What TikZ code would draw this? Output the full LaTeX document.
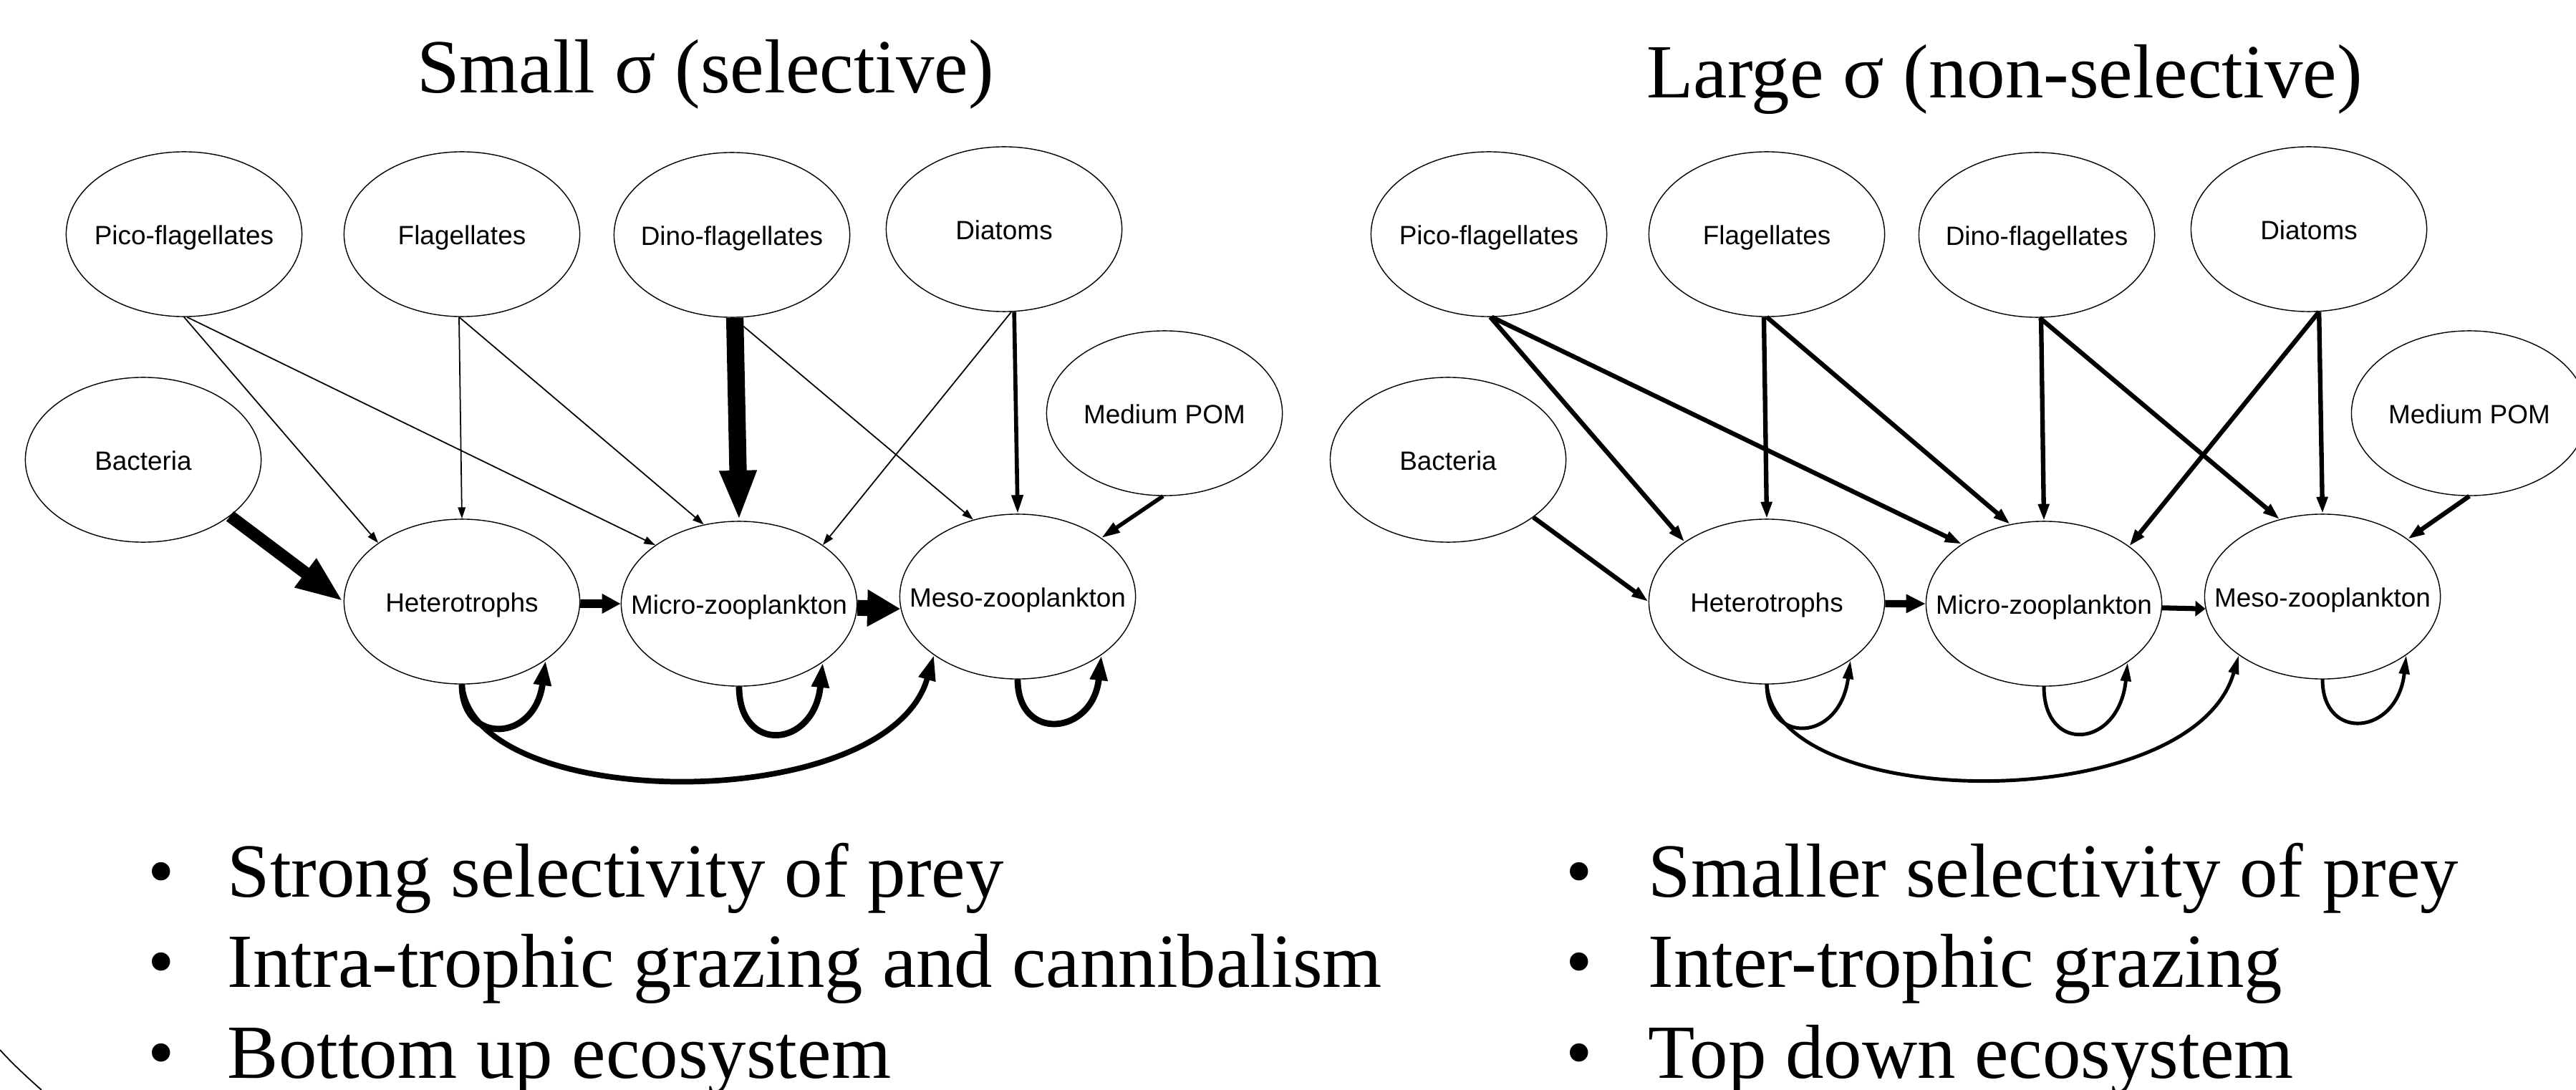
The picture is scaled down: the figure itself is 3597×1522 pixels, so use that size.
\documentclass[tikz,border=0pt]{standalone}
\usepackage{fontspec}
\setmainfont{Liberation Serif}
\newfontfamily\labelfont{Liberation Sans}
\usetikzlibrary{shapes.geometric,arrows.meta}
\newcommand\zw[1]{\makebox[0pt]{#1}}
\begin{document}
\begin{tikzpicture}[x=0.01cm,y=-0.01cm,
 pop/.style={ellipse,draw,line width=0.4pt,minimum width=3.29cm,minimum height=2.3cm,inner sep=0pt,font=\labelfont\fontsize{10.5}{12}\selectfont,text height=8.5pt,text depth=0pt},
 big/.style={inner sep=0pt,font=\fontsize{30.4}{36}\selectfont},
 thinL/.style={line width=0.5pt,-{Triangle[length=4.5pt,width=3pt]}},
 medL/.style={line width=1.6pt,-{Triangle[length=7.4pt,width=4.4pt]}},
 hugeL/.style={line width=6.9pt,-{Triangle[length=20pt,width=13.4pt]}},
 bactL/.style={line width=4.9pt,-{Triangle[length=19pt,width=13pt]}},
 hmL/.style={line width=3.4pt,-{Triangle[length=7.4pt,width=7.4pt]}},
 mmL/.style={line width=6.3pt,-{Triangle[length=13.2pt,width=13.8pt]}},
 loopL/.style={line width=2.5pt,-{Triangle[length=10pt,width=6.5pt]}},
 arcL/.style={line width=2.2pt,-{Triangle[length=10pt,width=6.5pt]}},
 medR/.style={line width=1.8pt,-{Triangle[length=6.7pt,width=4.2pt]}},
 hmR/.style={line width=2.9pt,-{Triangle[length=7.7pt,width=7pt]}},
 mmR/.style={line width=2pt,-{Triangle[length=4pt,width=6pt]}},
 loopR/.style={line width=1.4pt,-{Triangle[length=7.5pt,width=4pt]}},
]
\useasboundingbox (0,0) rectangle (3597,1522);
\clip (0,0) rectangle (3597,1522);

% titles
\node[big,anchor=base] (titleL) at (985,130) {Small σ (selective)};
\node[big,anchor=base] (titleR) at (2799,137) {Large σ (non-selective)};

% ---------------- left graph ----------------
\node[pop] (pico)   at (257,327)  {\zw{Pico-flagellates}};
\node[pop] (flag)   at (645,327)  {\zw{Flagellates}};
\node[pop] (dino)   at (1022,328) {\zw{Dino-flagellates}};
\node[pop] (diat)   at (1402,320) {\zw{Diatoms}};
\node[pop] (pom)    at (1626,577) {\zw{Medium POM}};
\node[pop] (bact)   at (200,642)  {\zw{Bacteria}};
\node[pop] (het)    at (645,840)  {\zw{Heterotrophs}};
\node[pop] (micro)  at (1032,843) {\zw{Micro-zooplankton}};
\node[pop] (meso)   at (1421,833) {\zw{Meso-zooplankton}};

\draw[thinL] (pico.-90) -- (het.145);
\draw[thinL] (pico.-88) -- (micro.145);
\draw[thinL] (flag.-92) -- (het.90);
\draw[thinL] (flag.-92) -- (micro.114);
\draw[hugeL] (dino.-88) -- (micro.90);
\draw[thinL] (dino.-89.5) -- (meso.120);
\draw[thinL] (diat.-85) -- (micro.35.5);
\draw[medL] (diat.-83) -- (meso.90);
\draw[medL] (pom.-91) -- (meso.35);
\draw[bactL] (bact.-33) -- (het.180);
\draw[hmL] (het.-1) -- (micro.180.5);
\draw[mmL] (micro.-2.4) -- (meso.186);
\draw[loopL] (het.-90) .. controls +(0,85) and +(-15,115) .. (het.-35);
\draw[loopL] (micro.-90) .. controls +(0,95) and +(-12,120) .. (micro.-35);
\draw[loopL] (meso.-90) .. controls +(0,88) and +(-12,112) .. (meso.-35);
\draw[arcL] (het.-90) .. controls +(15,180) and +(-65,226) .. (meso.-145);

% ---------------- right graph ----------------
\node[pop] (picoR)  at (2079,327) {\zw{Pico-flagellates}};
\node[pop] (flagR)  at (2467,327) {\zw{Flagellates}};
\node[pop] (dinoR)  at (2844,328) {\zw{Dino-flagellates}};
\node[pop] (diatR)  at (3224,320) {\zw{Diatoms}};
\node[pop] (pomR)   at (3448,577) {\zw{Medium POM}};
\node[pop] (bactR)  at (2022,642) {\zw{Bacteria}};
\node[pop] (hetR)   at (2467,840) {\zw{Heterotrophs}};
\node[pop] (microR) at (2854,843) {\zw{Micro-zooplankton}};
\node[pop] (mesoR)  at (3243,833) {\zw{Meso-zooplankton}};

\draw[medR] (picoR.-89) -- (hetR.144.6);
\draw[medR] (picoR.-88) -- (microR.144.6);
\draw[medR] (flagR.-92) -- (hetR.90);
\draw[medR] (flagR.-90.5) -- (microR.113.8);
\draw[medR] (dinoR.-87.6) -- (microR.90);
\draw[medR] (dinoR.-88.5) -- (mesoR.119.5);
\draw[medR] (diatR.-83) -- (microR.34.7);
\draw[medR] (diatR.-83) -- (mesoR.90);
\draw[medR] (pomR.-90.5) -- (mesoR.34.7);
\draw[medR] (bactR.-34.8) -- (hetR.180);
\draw[hmR] (hetR.-1) -- (microR.180.5);
\draw[mmR] (microR.-2.4) -- (mesoR.186);
\draw[loopR] (hetR.-90) .. controls +(0,85) and +(-15,115) .. (hetR.-35);
\draw[loopR] (microR.-90) .. controls +(0,95) and +(-12,120) .. (microR.-35);
\draw[loopR] (mesoR.-90) .. controls +(0,88) and +(-12,112) .. (mesoR.-35);
\draw[loopR] (hetR.-90) .. controls +(15,180) and +(-65,226) .. (mesoR.-145);

% ---------------- bullets ----------------
\node[big,anchor=base] (bl1) at (225,1252) {•};
\node[big,anchor=base] (bl2) at (225,1378) {•};
\node[big,anchor=base] (bl3) at (225,1505) {•};
\node[big,anchor=base west] (tl1) at (317,1252) {Strong selectivity of prey};
\node[big,anchor=base west] (tl2) at (317,1378) {Intra-trophic grazing and cannibalism};
\node[big,anchor=base west] (tl3) at (317,1505) {Bottom up ecosystem};

\node[big,anchor=base] (br1) at (2205,1252) {•};
\node[big,anchor=base] (br2) at (2205,1378) {•};
\node[big,anchor=base] (br3) at (2205,1505) {•};
\node[big,anchor=base west] (tr1) at (2301,1252) {Smaller selectivity of prey};
\node[big,anchor=base west] (tr2) at (2301,1378) {Inter-trophic grazing};
\node[big,anchor=base west] (tr3) at (2301,1505) {Top down ecosystem};

% decorative thin curve at bottom-left
\draw[line width=0.5pt] (0,1466) .. controls (20,1488) and (40,1506) .. (58,1522);
\end{tikzpicture}
\end{document}
